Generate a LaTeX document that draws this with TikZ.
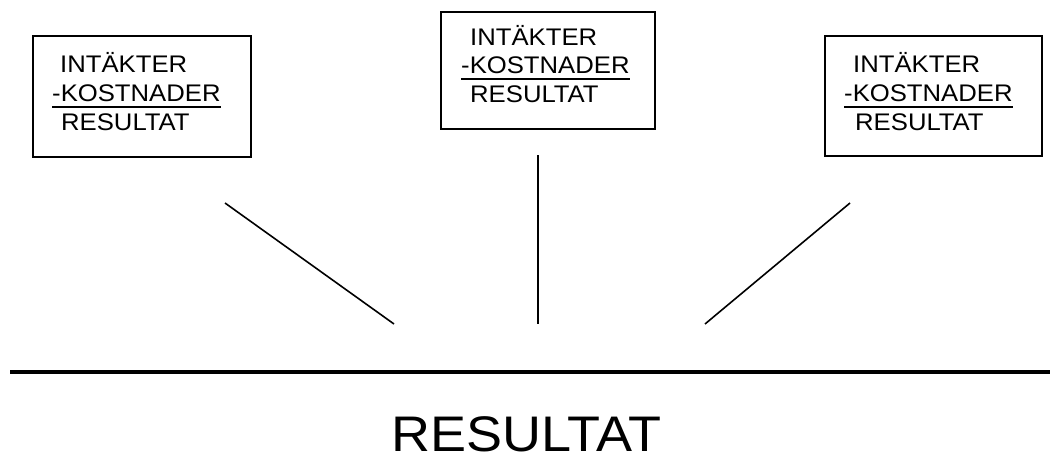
\documentclass[tikz,border=0pt]{standalone}
\usepackage{fontspec}
\setmainfont{Liberation Sans}
\newfontfamily\boxfont[FakeStretch=1.07]{Liberation Sans}
\newfontfamily\totalfont[FakeStretch=1.08]{Liberation Sans}
\begin{document}
\begin{tikzpicture}[x=1pt,y=-1pt,
  box/.style={draw, line width=1.8pt, inner sep=0pt},
  entry/.style={anchor=base west, inner sep=0pt, font=\boxfont\fontsize{24}{28}\selectfont},
  uline/.style={line width=1.5pt},
  spoke/.style={line width=1.6pt},
  bigtext/.style={anchor=base west, inner sep=0pt, font=\totalfont\fontsize{50}{58}\selectfont}]
\useasboundingbox (0,0) rectangle (1050,455);

% three income statements
\node[box, minimum width=218pt, minimum height=121pt] (b1) at (142,96.5) {};
\node[box, minimum width=214pt, minimum height=117pt] (b2) at (548,70.5) {};
\node[box, minimum width=217pt, minimum height=120pt] (b3) at (933.5,96) {};

\node[entry] (i1) at (60,72) {INTÄKTER};
\node[entry] (k1) at (52,101) {-KOSTNADER};
\node[entry] (r1) at (61,130) {RESULTAT};
\draw[uline] ([yshift=-6pt]k1.base west) -- ([yshift=-6pt]k1.base east);

\node[entry] (i2) at (470,45) {INTÄKTER};
\node[entry] (k2) at (461,73) {-KOSTNADER};
\node[entry] (r2) at (470,102) {RESULTAT};
\draw[uline] ([yshift=-6pt]k2.base west) -- ([yshift=-6pt]k2.base east);

\node[entry] (i3) at (853,72) {INTÄKTER};
\node[entry] (k3) at (844,101) {-KOSTNADER};
\node[entry] (r3) at (855,130) {RESULTAT};
\draw[uline] ([yshift=-6pt]k3.base west) -- ([yshift=-6pt]k3.base east);

% lines converging on the total
\coordinate (s1a) at (225,203);
\coordinate (s1b) at (394,324);
\coordinate (s2a) at (538,155);
\coordinate (s2b) at (538,324);
\coordinate (s3a) at (850,203);
\coordinate (s3b) at (705,324);
\draw[spoke] (s1a) -- (s1b);
\draw[spoke] (s2a) -- (s2b);
\draw[spoke] (s3a) -- (s3b);

% summation rule and total
\coordinate (ra) at (10,372);
\coordinate (rb) at (1050,372);
\draw[line width=4pt] (ra) -- (rb);
\node[bigtext] (tot) at (391,451) {RESULTAT};
\end{tikzpicture}
\end{document}
